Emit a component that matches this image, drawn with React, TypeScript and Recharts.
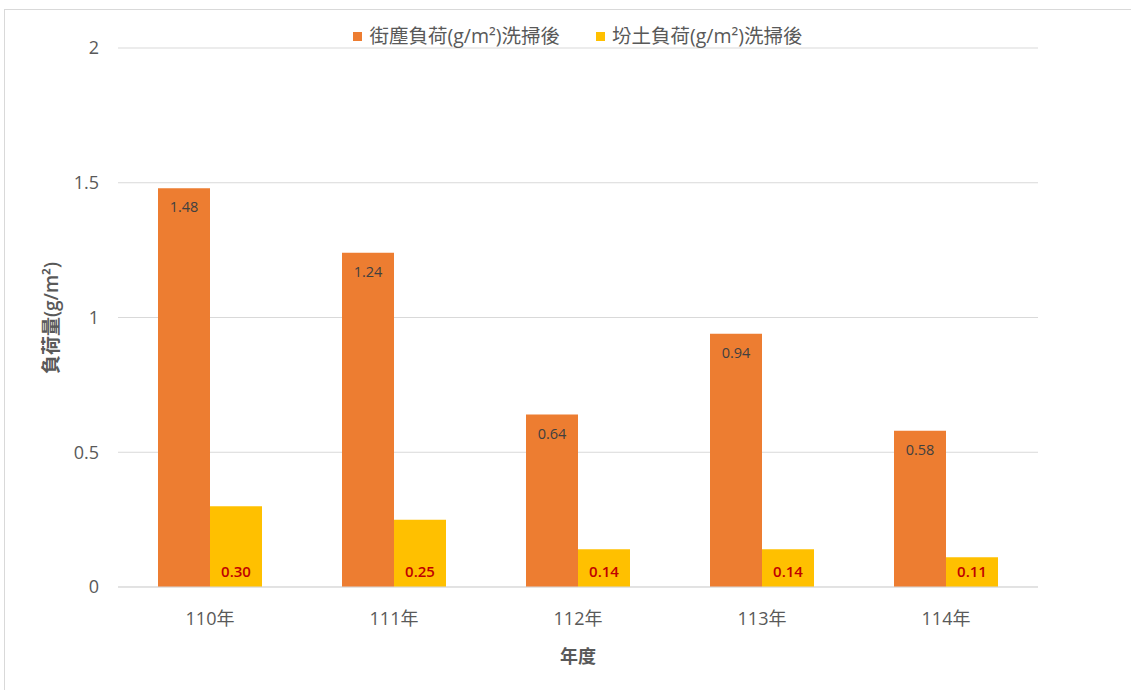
import React from 'react';
import { BarChart, Bar, XAxis, YAxis, CartesianGrid, LabelList } from 'recharts';

const years = ['110年', '111年', '112年', '113年', '114年'];
const streetDust = [1.48, 1.24, 0.64, 0.94, 0.58];
const soilDust = [0.3, 0.25, 0.14, 0.14, 0.11];
const yTicks = [0, 0.5, 1, 1.5, 2];

const STREET = '街塵負荷(g/m²)洗掃後';
const SOIL = '坋土負荷(g/m²)洗掃後';

const data = years.map((year, i) => ({
  year,
  street: streetDust[i],
  soil: soilDust[i],
}));

const FONT = '"Open Sans", "Noto Sans CJK TC", sans-serif';

const LegendBox = () => (
  <div
    style={{
      position: 'absolute',
      top: 23,
      left: 0,
      width: 1156,
      display: 'flex',
      justifyContent: 'center',
      fontFamily: FONT,
      fontSize: 19.5,
      color: '#595959',
      lineHeight: '26px',
    }}
  >
    {[
      { name: STREET, color: '#ED7D31' },
      { name: SOIL, color: '#FFC000' },
    ].map((item, i) => (
      <div key={item.name} style={{ display: 'flex', alignItems: 'center', marginLeft: i ? 36 : 0 }}>
        <span style={{ width: 9, height: 9, background: item.color, marginRight: 7, display: 'inline-block' }} />
        <span>{item.name}</span>
      </div>
    ))}
  </div>
);

const YLabel = () => (
  <text
    x={51}
    y={318}
    transform="rotate(-90 51 318)"
    textAnchor="middle"
    dominantBaseline="central"
    fill="#595959"
    fontSize={19}
    fontWeight={600}
    fontFamily={FONT}
  >
    負荷量(g/m²)
  </text>
);

const App: React.FC = () => {
  return (
    <div style={{ position: 'fixed', left: 0, top: 0, width: 1131, height: 690, background: '#fff', overflow: 'hidden' }}>
      <div
        style={{
          position: 'absolute',
          left: 4,
          top: 9,
          width: 1140,
          height: 700,
          border: '1px solid #d9d9d9',
          boxSizing: 'border-box',
        }}
      />
      <BarChart
        width={1131}
        height={690}
        data={data}
        margin={{ top: 48, right: 93, left: 0, bottom: 73 }}
        barGap={0}
        barCategoryGap={40}
        style={{ fontFamily: FONT }}
      >
        <CartesianGrid vertical={false} stroke="#d9d9d9" strokeWidth={1} />
        <XAxis
          dataKey="year"
          height={30}
          axisLine={{ stroke: '#d9d9d9' }}
          tickLine={false}
          tickSize={0}
          tickMargin={25}
          tick={{ fontSize: 18, fill: '#595959', fontFamily: FONT }}
          label={{
            value: '年度',
            position: 'insideBottom',
            offset: -46,
            fill: '#595959',
            fontSize: 18,
            fontWeight: 600,
            fontFamily: FONT,
          }}
        />
        <YAxis
          width={118}
          domain={[0, 2]}
          ticks={yTicks}
          axisLine={false}
          tickLine={false}
          tickSize={0}
          tickMargin={19}
          tick={{ fontSize: 18, fill: '#595959', fontFamily: FONT }}
          label={<YLabel />}
        />
        <Bar dataKey="street" name={STREET} fill="#ED7D31" isAnimationActive={false}>
          <LabelList
            dataKey="street"
            position="insideTop"
            offset={14}
            formatter={(v: number) => v.toFixed(2)}
            style={{ fontSize: 14.5, fill: '#404040', fontFamily: FONT }}
          />
        </Bar>
        <Bar dataKey="soil" name={SOIL} fill="#FFC000" isAnimationActive={false}>
          <LabelList
            dataKey="soil"
            position="insideBottom"
            offset={10}
            formatter={(v: number) => v.toFixed(2)}
            style={{ fontSize: 15, fill: '#C00000', fontWeight: 600, fontFamily: FONT }}
          />
        </Bar>
      </BarChart>
      <LegendBox />
    </div>
  );
};

export default App;
